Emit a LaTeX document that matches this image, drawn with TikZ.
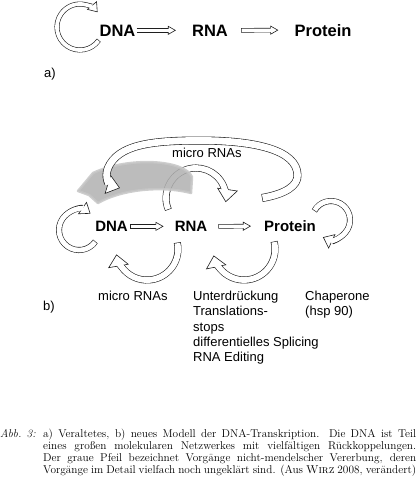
\documentclass[tikz,border=0pt]{standalone}
\usepackage{fontspec}
\setsansfont{Liberation Sans}
\usetikzlibrary{arrows.meta}
\definecolor{ink}{gray}{0.12}
\begin{document}
\begin{tikzpicture}[x=1pt,y=1pt,yscale=-1,
  laba/.style={font=\sffamily\bfseries\fontsize{16.5}{18}\selectfont, inner sep=0pt, anchor=base},
  labb/.style={font=\sffamily\bfseries\fontsize{15}{17}\selectfont, inner sep=0pt, anchor=base},
  txt/.style={font=\sffamily\fontsize{13}{15}\selectfont, inner sep=0pt, anchor=base west},
  captxt/.style={font=\fontsize{11.3}{12.2}\selectfont, inner sep=0pt, anchor=base west},
  harrow/.style n args={3}{line width=#1, draw=ink, line cap=butt, line join=round,
    -{Triangle[length=#2,width=#3,fill=white,line width=0.6pt]},
    postaction={draw=white, line width=#1-1.2pt, shorten <=0.6pt, shorten >=#2-1.2pt, arrows=-}},
  greyarrow/.style={fill=gray!62, draw=gray!45, line width=2.5pt, line join=round, opacity=.85}
]
\useasboundingbox (0,0) rectangle (417,480);

% ---------- a) ----------
\node[laba] (dnaA) at (117.5,36) {DNA};
\node[laba] (rnaA) at (210,36) {RNA};
\node[laba] (proA) at (323,36) {Protein};
\node[txt] (a) at (44,77) {a)};
\draw[harrow={4.5pt}{8pt}{9pt}] ([xshift=1pt]dnaA.east) -- ([xshift=-16pt]rnaA.west);
\draw[harrow={4.5pt}{8pt}{9pt}] ([xshift=13pt]rnaA.east) -- ([xshift=-16pt]proA.west);
\coordinate (la) at (98.8,40.2);
\draw[harrow={5pt}{9pt}{13pt}] (la) arc[start angle=35, end angle=320, radius=23pt];

% ---------- b) ----------
\node[labb] (dnaB) at (111.5,231.5) {DNA};
\node[labb] (rnaB) at (191,231.5) {RNA};
\node[labb] (proB) at (290,231.5) {Protein};
\draw[harrow={4.5pt}{8pt}{9pt}] ([xshift=2pt]dnaB.east) -- ([xshift=-11pt]rnaB.west);
\draw[harrow={4.5pt}{8pt}{9pt}] ([xshift=11pt]rnaB.east) -- ([xshift=-13pt]proB.west);

% self loops
\coordinate (ldna) at (95.4,241.5);
\draw[harrow={6pt}{10pt}{15pt}] (ldna) arc[start angle=35, end angle=305, radius=20pt];
\coordinate (lpro) at (314.4,210.8);
\draw[harrow={6pt}{10pt}{16pt}] (lpro) arc[start angle=209, end angle=475, radius=19pt];

% bottom loops
\coordinate (lb1) at (177.3,242.6);
\draw[harrow={7pt}{12pt}{21pt}] (lb1) arc[start angle=-12, end angle=170, radius=31pt];
\coordinate (lb2) at (274.1,241.5);
\draw[harrow={7pt}{12pt}{21pt}] (lb2) arc[start angle=-14, end angle=168, radius=31pt];

% RNA top loop
\coordinate (lrna) at (168.4,209.7);
\draw[harrow={7pt}{13pt}{21pt}] (lrna) arc[start angle=157, end angle=368, radius=30pt];

% grey arrow
\filldraw[greyarrow] (192,177) .. controls (185,160) and (130,156) .. (93,173)
  -- (78,191) -- (89,195) -- (98,203)
  .. controls (120,190) and (160,185) .. (191,193) -- cycle;

% big micro RNAs arc
\coordinate (lmi) at (262,198);
\draw[harrow={8pt}{13pt}{20pt}] (lmi) .. controls (285,194) and (298,186) .. (297.5,175)
  .. controls (297,150) and (255,140.5) .. (200,140.5)
  .. controls (150,140.5) and (118,145) .. (108,168)
  .. controls (104,178) and (110,185) .. (120,188);

\node[txt] (mi1) at (172,157) {micro RNAs};
\node[txt] (b) at (43,310) {b)};
\node[txt] (mi2) at (98,300.5) {micro RNAs};
\node[txt] (u1) at (193,300.5) {Unterdrückung};
\node[txt] (u2) at (193,315.8) {Translations-};
\node[txt] (u3) at (193,331.1) {stops};
\node[txt] (u4) at (193,346.4) {differentielles Splicing};
\node[txt] (u5) at (193,361.7) {RNA Editing};
\node[txt] (c1) at (305,300.5) {Chaperone};
\node[txt] (c2) at (305,315.8) {(hsp 90)};

% ---------- caption ----------
\node[captxt] (abb) at (0,437) {\itshape Abb. 3:};
\node[captxt] (k1) at (43,437) {\makebox[373pt][s]{a) Veraltetes, b) neues Modell der DNA-Transkription. Die DNA ist Teil}};
\node[captxt] (k2) at (43,449.2) {\makebox[373pt][s]{eines großen molekularen Netzwerkes mit vielfältigen Rückkoppelungen.}};
\node[captxt] (k3) at (43,461.4) {\makebox[373pt][s]{Der graue Pfeil bezeichnet Vorgänge nicht-mendelscher Vererbung, deren}};
\node[captxt] (k4) at (43,473.6) {\makebox[373pt][s]{Vorgänge im Detail vielfach noch ungeklärt sind. (Aus \textsc{Wirz} 2008, verändert)}};
\end{tikzpicture}
\end{document}
